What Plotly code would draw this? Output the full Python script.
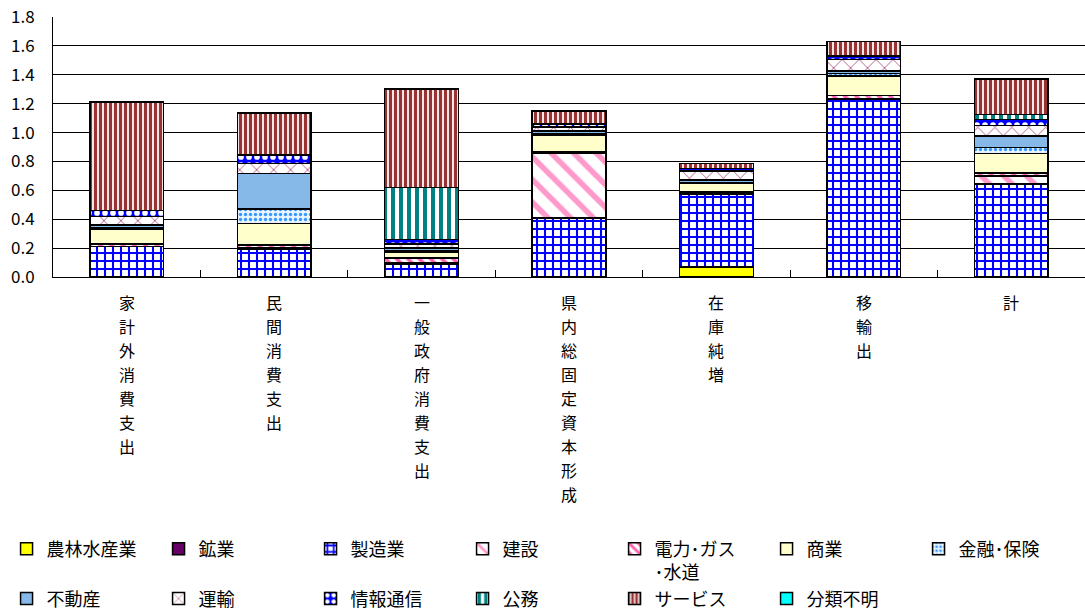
import plotly.graph_objects as go

# 需要項目（横軸）
categories = ["家計外消費支出", "民間消費支出", "一般政府消費支出",
              "県内総固定資本形成", "在庫純増", "移輸出", "計"]

# 産業部門別の値（各需要項目の順）
agri       = [0.0, 0.0, 0.0, 0.0, 0.07, 0.0, 0.005]
mining     = [0.0, 0.0, 0.0, 0.0, 0.0, 0.0, 0.0]
manuf      = [0.21, 0.19, 0.09, 0.41, 0.50, 1.23, 0.64]
construct  = [0.0, 0.01, 0.01, 0.45, 0.005, 0.005, 0.055]
utilities  = [0.02, 0.02, 0.03, 0.005, 0.015, 0.02, 0.02]
commerce   = [0.10, 0.15, 0.04, 0.115, 0.06, 0.135, 0.135]
finance    = [0.01, 0.10, 0.01, 0.01, 0.005, 0.02, 0.04]
realestate = [0.02, 0.245, 0.02, 0.02, 0.015, 0.015, 0.08]
transport  = [0.06, 0.07, 0.03, 0.03, 0.065, 0.08, 0.075]
infocomm   = [0.04, 0.06, 0.03, 0.02, 0.015, 0.025, 0.04]
publicadm  = [0.0, 0.0, 0.36, 0.0, 0.0, 0.0, 0.035]
services   = [0.75, 0.29, 0.68, 0.09, 0.035, 0.10, 0.245]
unknown    = [0.0, 0.0, 0.0, 0.0, 0.0, 0.0, 0.0]

y_ticks = [0.0, 0.2, 0.4, 0.6, 0.8, 1.0, 1.2, 1.4, 1.6, 1.8]

FONT = "Noto Sans CJK JP"


def hatch(shape, fg, bg, size, solidity):
    return dict(color=bg, pattern=dict(shape=shape, fgcolor=fg, bgcolor=bg,
                                       size=size, solidity=solidity,
                                       fillmode="replace", fgopacity=1))


# 部門名・値・塗り（色と模様）
sectors = [
    ("農林水産業", agri, dict(color="#FFFF00")),
    ("鉱業", mining, dict(color="#660066")),
    ("製造業", manuf, hatch("+", "#0000FF", "white", 8, 0.45)),
    ("建設", construct, hatch("\\", "#FF99CC", "white", 16, 0.35)),
    ("電力･ガス<br>･水道", utilities, hatch("\\", "#FF66B2", "white", 8, 0.45)),
    ("商業", commerce, dict(color="#FFFFCC")),
    ("金融･保険", finance, hatch(".", "#3399FF", "#EAF4FF", 5, 0.35)),
    ("不動産", realestate, dict(color="#86B8E8")),
    ("運輸", transport, hatch("x", "#B05C8C", "white", 12, 0.15)),
    ("情報通信", infocomm, hatch(".", "white", "#0000FF", 8, 0.4)),
    ("公務", publicadm, hatch("|", "#008080", "white", 8, 0.5)),
    ("サービス", services, hatch("|", "#993333", "white", 5, 0.65)),
    ("分類不明", unknown, dict(color="#00FFFF")),
]

fig = go.Figure()
for name, vals, fill in sectors:
    marker = dict(fill)
    marker["line"] = dict(color="black", width=1.5)
    fig.add_trace(go.Bar(
        x=categories,
        y=[v if v > 0 else None for v in vals],
        name=name,
        marker=marker,
        hoverinfo="x+y+name",
    ))

# 縦書きの項目名
annotations = []
for cat in categories:
    for i, ch in enumerate(cat):
        annotations.append(dict(
            x=cat, xref="x", y=0, yref="paper", yanchor="top",
            yshift=-(11 + 24 * i), text=ch, showarrow=False,
            font=dict(family=FONT, size=16, color="black"),
        ))

fig.update_layout(
    width=1085, height=612,
    margin=dict(l=53, r=0, t=17, b=335, autoexpand=False),
    paper_bgcolor="white", plot_bgcolor="white",
    barmode="stack", bargap=0.5,
    font=dict(family=FONT, color="black"),
    annotations=annotations,
    legend=dict(
        orientation="h", x=-0.045, xanchor="left", y=-0.975, yanchor="top",
        font=dict(family=FONT, size=18, color="black"),
        entrywidth=107, entrywidthmode="pixels",
        traceorder="normal", valign="top",
        itemclick=False, itemdoubleclick=False,
    ),
    xaxis=dict(
        showticklabels=False, showline=True, linecolor="black", linewidth=1,
        ticks="inside", tickson="boundaries", ticklen=7, tickcolor="black",
        showgrid=False,
    ),
    yaxis=dict(
        range=[0, 1.8], tickvals=y_ticks, tickformat=".1f",
        showgrid=True, gridcolor="#000000", gridwidth=1,
        showline=True, linecolor="black", linewidth=1, zeroline=False,
        ticks="", ticklabelstandoff=14,
        tickfont=dict(family=FONT, size=17, color="black"),
    ),
)

fig.write_html("out.html")
